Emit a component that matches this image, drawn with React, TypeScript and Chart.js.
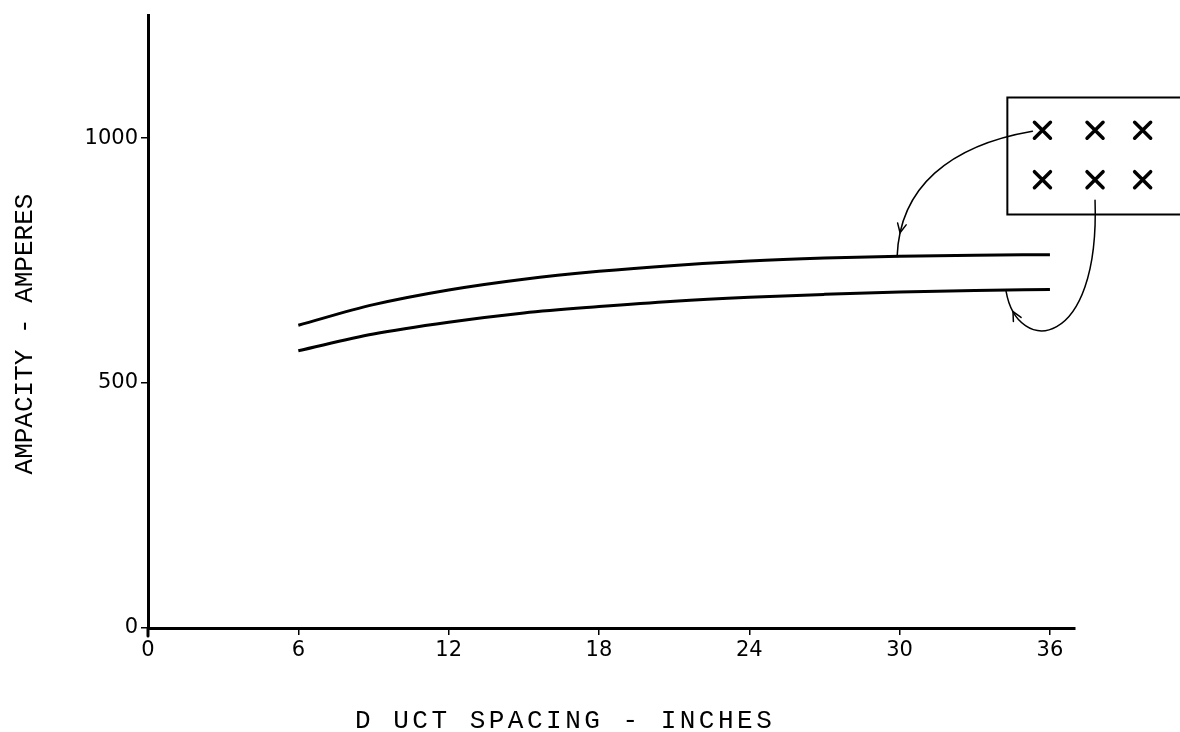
import React, { useEffect, useRef } from 'react';
import { Chart, registerables } from 'chart.js';

Chart.register(...registerables);

// Duct spacing (inches) and ampacity (amperes)
const spacing = [6, 9, 12, 15, 18, 21, 24, 27, 30, 33, 36];
const upperAmps = [618, 660, 690, 712, 728, 740, 749, 755, 759, 761, 762];
const lowerAmps = [566, 600, 624, 643, 656, 667, 675, 681, 686, 689, 691];
const xTicks = [0, 6, 12, 18, 24, 30, 36];
const yTicks = [0, 500, 1000];
const xTitle = 'D UCT SPACING - INCHES';
const yTitle = 'AMPACITY - AMPERES';

// Inset: conductor arrangement (data units)
const insetBox = { x0: 34.3, x1: 43, y0: 1083, y1: 844 };
const conductorX = [35.7, 37.8, 39.7];
const conductorY = [1016, 915];
// leader arrows: [start, control1, control2, end] in data units
const arrowUpper = [
  [35.3, 1014],
  [32.0, 985],
  [30.0, 900],
  [29.9, 758],
];
const arrowLower = [
  [37.8, 873],
  [38.0, 565],
  [34.7, 555],
  [34.25, 687],
];

const titlePlugin = {
  id: 'axisTitles',
  afterDraw(chart: any) {
    const { ctx, chartArea } = chart;
    ctx.save();
    ctx.fillStyle = '#000';
    ctx.font = '26px "Liberation Mono"';
    ctx.textAlign = 'center';
    ctx.textBaseline = 'middle';
    (ctx as any).letterSpacing = '3.5px';
    const xc = chartArea.left + (chartArea.right - chartArea.left) * 0.45;
    ctx.fillText(xTitle, xc, chartArea.bottom + 93);
    (ctx as any).letterSpacing = '0px';
    ctx.translate(chartArea.left - 123, chartArea.top + (chartArea.bottom - chartArea.top) * 0.52);
    ctx.rotate(-Math.PI / 2);
    ctx.fillText(yTitle, 0, 0);
    ctx.restore();
  },
};

const annotationPlugin = {
  id: 'inset',
  afterDatasetsDraw(chart: any) {
    const { ctx } = chart;
    const xs = chart.scales.x;
    const ys = chart.scales.y;
    const px = (v: number) => xs.getPixelForValue(v);
    const py = (v: number) => ys.getPixelForValue(v);
    ctx.save();
    ctx.strokeStyle = '#000';
    ctx.lineCap = 'round';
    // axis overhangs (hand-drawn axes cross slightly)
    ctx.lineWidth = 3;
    ctx.beginPath();
    ctx.moveTo(px(0), py(0));
    ctx.lineTo(px(0), py(0) + 8);
    ctx.stroke();
    // box
    ctx.lineWidth = 2;
    ctx.beginPath();
    ctx.moveTo(px(insetBox.x1), py(insetBox.y0));
    ctx.lineTo(px(insetBox.x0), py(insetBox.y0));
    ctx.lineTo(px(insetBox.x0), py(insetBox.y1));
    ctx.lineTo(px(insetBox.x1), py(insetBox.y1));
    ctx.stroke();
    // conductors (X marks)
    ctx.lineWidth = 3.5;
    const s = 8;
    conductorY.forEach((cy) => {
      conductorX.forEach((cx) => {
        const X = px(cx);
        const Y = py(cy);
        ctx.beginPath();
        ctx.moveTo(X - s, Y - s);
        ctx.lineTo(X + s, Y + s);
        ctx.moveTo(X + s, Y - s);
        ctx.lineTo(X - s, Y + s);
        ctx.stroke();
      });
    });
    // arrows
    const drawArrow = (pts: number[][]) => {
      const P = pts.map(([a, b]) => [px(a), py(b)]);
      ctx.lineWidth = 1.5;
      ctx.beginPath();
      ctx.moveTo(P[0][0], P[0][1]);
      ctx.bezierCurveTo(P[1][0], P[1][1], P[2][0], P[2][1], P[3][0], P[3][1]);
      ctx.stroke();
      const t = 0.88;
      const bz = (tt: number, k: number) =>
        (1 - tt) ** 3 * P[0][k] + 3 * (1 - tt) ** 2 * tt * P[1][k] + 3 * (1 - tt) * tt * tt * P[2][k] + tt ** 3 * P[3][k];
      const hx = bz(t, 0);
      const hy = bz(t, 1);
      const dx = bz(t + 0.01, 0) - hx;
      const dy = bz(t + 0.01, 1) - hy;
      const ang = Math.atan2(dy, dx);
      const L = 10;
      ctx.beginPath();
      ctx.moveTo(hx - L * Math.cos(ang - 0.45), hy - L * Math.sin(ang - 0.45));
      ctx.lineTo(hx, hy);
      ctx.lineTo(hx - L * Math.cos(ang + 0.45), hy - L * Math.sin(ang + 0.45));
      ctx.stroke();
    };
    drawArrow(arrowUpper);
    drawArrow(arrowLower);
    ctx.restore();
  },
};

export default function App() {
  const ref = useRef<HTMLCanvasElement>(null);
  useEffect(() => {
    if (!ref.current) return;
    const tickFont = { family: 'DejaVu Sans', size: 21 };
    const chart = new Chart(ref.current, {
      type: 'line',
      data: {
        datasets: [
          {
            label: 'Upper',
            data: spacing.map((x, i) => ({ x, y: upperAmps[i] })),
            borderColor: '#000',
            borderWidth: 3,
            pointRadius: 0,
            cubicInterpolationMode: 'monotone',
          },
          {
            label: 'Lower',
            data: spacing.map((x, i) => ({ x, y: lowerAmps[i] })),
            borderColor: '#000',
            borderWidth: 3,
            pointRadius: 0,
            cubicInterpolationMode: 'monotone',
          },
        ],
      },
      options: {
        animation: false,
        responsive: false,
        maintainAspectRatio: false,
        layout: { padding: { top: 4, right: 105, left: 0, bottom: 0 } },
        plugins: { legend: { display: false }, tooltip: { enabled: false } },
        scales: {
          x: {
            type: 'linear',
            min: 0,
            max: 37,
            afterBuildTicks: (s: any) => {
              s.ticks = xTicks.map((v) => ({ value: v }));
            },
            afterFit: (s: any) => {
              s.height = 104;
            },
            ticks: {
              font: tickFont,
              color: '#000',
              padding: 3,
              maxRotation: 0,
              autoSkip: false,
              callback: (v: any) => String(v),
            },
            grid: { display: true, drawOnChartArea: false, drawTicks: true, tickLength: 7, color: '#000', lineWidth: 1.5 },
            border: { display: true, color: '#000', width: 3 },
            title: { display: false, text: xTitle },
          },
          y: {
            type: 'linear',
            min: 0,
            max: 1250,
            afterBuildTicks: (s: any) => {
              s.ticks = yTicks.map((v) => ({ value: v }));
            },
            afterFit: (s: any) => {
              s.width = 148;
            },
            ticks: { font: tickFont, color: '#000', padding: 3, callback: (v: any) => String(v) },
            grid: { display: true, drawOnChartArea: false, drawTicks: true, tickLength: 7, color: '#000', lineWidth: 1.5 },
            border: { display: true, color: '#000', width: 3 },
            title: { display: false, text: yTitle },
          },
        },
      },
      plugins: [annotationPlugin, titlePlugin],
    });
    return () => chart.destroy();
  }, []);
  return (
    <div style={{ position: 'fixed', left: 0, top: 0, width: 1180, height: 732, background: '#fff' }}>
      <canvas ref={ref} width={1180} height={732} style={{ width: 1180, height: 732 }} />
    </div>
  );
}
